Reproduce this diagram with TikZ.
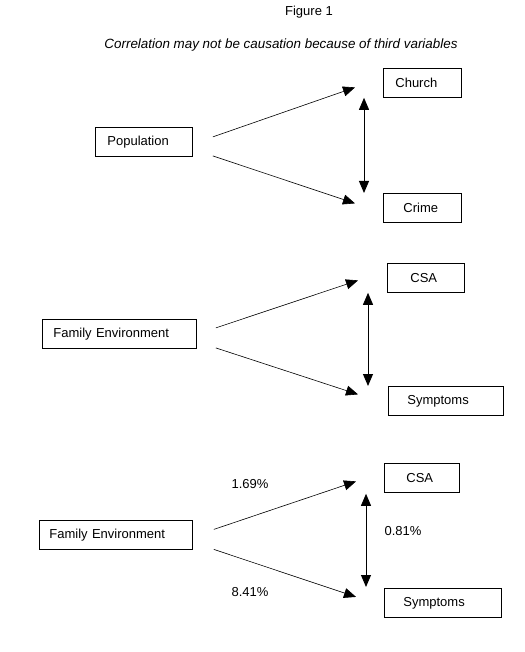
\documentclass[tikz,border=0pt]{standalone}
\usepackage{fontspec}
\setmainfont{Liberation Sans}
\usetikzlibrary{arrows.meta,calc}

\begin{document}
\begin{tikzpicture}[x=1pt,y=-1pt,font=\fontsize{13}{15}\selectfont,
  >={Triangle[length=12pt,width=10pt]},
  box/.style 2 args={draw,line width=0.8pt,anchor=north west,minimum height=29pt,
    inner ysep=0pt,inner xsep=#2,text width=#1,align=left},
  link/.style={->,line width=0.6pt},
  corr/.style={<->,line width=0.9pt}]
  \useasboundingbox (0,0) rectangle (524,652);
  \node (fig) at (309,12) {Figure 1};
  \node (sub) at (281,45) {\fontsize{13.4}{15}\selectfont\itshape Correlation may not be causation because of third variables};
  % third variable: population
  \node[box={73pt}{12pt}] (pop)    at (95,127)  {Population};
  \node[box={54pt}{12pt}] (church) at (383,68)  {Church};
  \node[box={38pt}{20pt}] (crime)  at (383,193) {Crime};
  \draw[link] ([shift={(20,-5)}]pop.east) -- ([shift={(-28,4.5)}]church.west);
  \draw[link] ([shift={(20,14)}]pop.east) -- ([shift={(-28,-4.5)}]crime.west);
  \draw[corr] ([shift={(-19,0)}]church.south west) -- ([shift={(-19,0)}]crime.north west);
  % third variable: family environment
  \node[box={132pt}{11pt}] (famA) at (42,319)  {Family Environment};
  \node[box={31pt}{23pt}]  (csaA) at (387,263) {CSA};
  \node[box={77pt}{19pt}]  (symA) at (388,386) {Symptoms};
  \draw[link] ([shift={(19,-6)}]famA.east) -- ([shift={(-29,2.5)}]csaA.west);
  \draw[link] ([shift={(19,14)}]famA.east) -- ([shift={(-30,-6.5)}]symA.west);
  \draw[corr] ([shift={(-19,0)}]csaA.south west) -- ([shift={(-20,0)}]symA.north west);
  % same, with shared variance
  \node[box={133pt}{10pt}] (famB) at (39,520)  {Family Environment};
  \node[box={31pt}{22pt}]  (csaB) at (384,463) {CSA};
  \node[box={79pt}{19pt}]  (symB) at (384,588) {Symptoms};
  \draw[link] ([shift={(21,-5.5)}]famB.east) -- ([shift={(-28,3.5)}]csaB.west);
  \draw[link] ([shift={(21,14.5)}]famB.east) -- ([shift={(-28,-6)}]symB.west);
  \draw[corr] ([shift={(-18,1)}]csaB.south west) -- ([shift={(-18,-1)}]symB.north west);
  \node (pctA) at (250,484) {1.69\%};
  \node (pctB) at (250,592) {8.41\%};
  \node (pctC) at (403,531) {0.81\%};
\end{tikzpicture}
\end{document}
